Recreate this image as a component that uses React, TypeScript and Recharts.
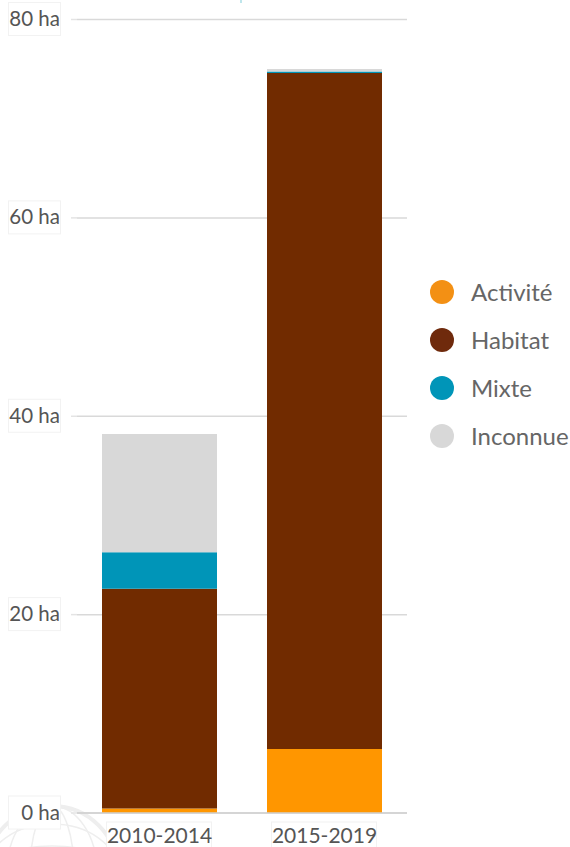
import React from "react";
import { BarChart, Bar, XAxis, YAxis, CartesianGrid, Legend } from "recharts";

const periods = ["2010-2014", "2015-2019"];
const activite = [0.45, 6.45];
const habitat = [22.15, 68.15];
const mixte = [3.7, 0.15];
const inconnue = [11.9, 0.25];
const yTicks = [0, 20, 40, 60, 80];

const seriesList = [
  { key: "Activité", color: "#ff9600", legendColor: "#f39014" },
  { key: "Habitat", color: "#712b00", legendColor: "#6f2a0c" },
  { key: "Mixte", color: "#0095b8", legendColor: "#0095b8" },
  { key: "Inconnue", color: "#d8d8d8", legendColor: "#d8d8d8" },
];

const rows = periods.map((p, i) => ({
  period: p,
  "Activité": activite[i],
  Habitat: habitat[i],
  Mixte: mixte[i],
  Inconnue: inconnue[i],
}));

const FONT = "Lato, 'Noto Sans', sans-serif";

const YTick = (props: any) => {
  const { y, payload } = props;
  return (
    <g>
      <rect x={8.5} y={y - 17} width={52} height={33} fill="#fff" stroke="#f2f2f2" />
      <line x1={71} x2={77} y1={y} y2={y} stroke="#e4e4e4" strokeWidth={1.5} />
      <text x={60} y={y + 6.5} textAnchor="end" fontSize={20.5} fontFamily={FONT} fill="#555">
        {payload.value} ha
      </text>
    </g>
  );
};

const XTick = (props: any) => {
  const { x, y, payload } = props;
  return (
    <g>
      <rect x={x - 53} y={y} width={105} height={30} fill="#fff" stroke="#f2f2f2" />
      <text x={x} y={y + 21} textAnchor="middle" fontSize={21} fontFamily={FONT} fill="#555">
        {payload.value}
      </text>
    </g>
  );
};

const LegendBox = () => (
  <div style={{ paddingLeft: 23, width: 140, fontFamily: FONT }}>
    {seriesList.map((s) => (
      <div key={s.key} style={{ display: "flex", alignItems: "center", height: 48 }}>
        <span
          style={{
            display: "block",
            width: 24,
            height: 24,
            borderRadius: 12,
            background: s.legendColor,
            marginRight: 17,
            flex: "none",
          }}
        />
        <span style={{ fontSize: 24, color: "#666", whiteSpace: "nowrap", position: "relative", top: -1 }}>{s.key}</span>
      </div>
    ))}
  </div>
);

const Globe = () => (
  <svg width={570} height={847} style={{ position: "absolute", left: 0, top: 0 }}>
    <rect x={240} y={0} width={2} height={3} fill="#bfe6ec" />
    <g fill="none" stroke="#eeeeee" strokeWidth={1.5}>
      <circle cx={52} cy={872} r={66} strokeWidth={4} />
      <ellipse cx={52} cy={872} rx={45} ry={66} />
      <ellipse cx={52} cy={872} rx={22} ry={66} />
      <ellipse cx={52} cy={872} rx={66} ry={48} />
      <ellipse cx={52} cy={872} rx={66} ry={26} />
    </g>
  </svg>
);

export default function App() {
  return (
    <div style={{ position: "absolute", left: 0, top: 0, width: 570, height: 847, overflow: "hidden", background: "#fff" }}>
      <Globe />
      <BarChart
        width={570}
        height={847}
        data={rows}
        margin={{ top: 19.5, right: 0, bottom: 0, left: 0 }}
        barSize={115}
        style={{ position: "absolute", left: 0, top: 0 }}
      >
        <CartesianGrid horizontal vertical={false} stroke="#d9d9d9" strokeWidth={1.5} />
        <XAxis
          dataKey="period"
          axisLine={{ stroke: "#d0d0d0", strokeWidth: 1.5 }}
          tickLine={false}
          tick={<XTick />}
          interval={0}
          height={34}
          tickMargin={3}
        />
        <YAxis
          width={77}
          domain={[0, 80]}
          ticks={yTicks}
          axisLine={false}
          tickLine={false}
          tick={<YTick />}
          interval={0}
        />
        {seriesList.map((s) => (
          <Bar
            key={s.key}
            dataKey={s.key}
            stackId="total"
            fill={s.color}
            isAnimationActive={false}
          />
        ))}
        <Legend
          layout="vertical"
          align="right"
          verticalAlign="middle"
          width={163}
          wrapperStyle={{ top: 268 }}
          content={<LegendBox />}
        />
      </BarChart>
    </div>
  );
}
